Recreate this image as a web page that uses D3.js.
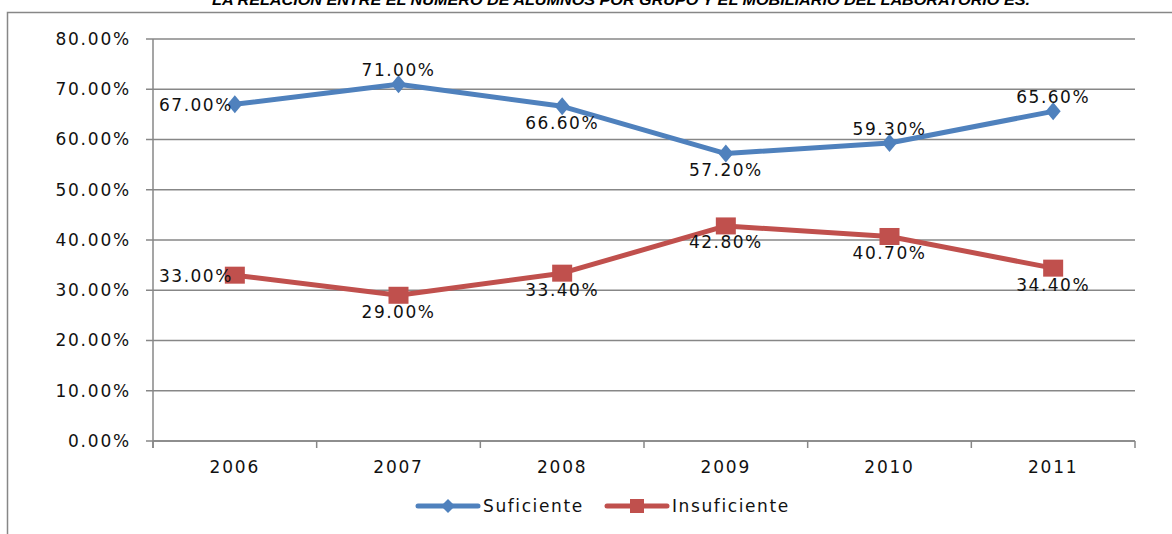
<!DOCTYPE html>
<html><head><meta charset="utf-8">
<script src="https://cdn.jsdelivr.net/npm/d3@7"></script>
<style>body{margin:0;background:#fff;}svg{display:block;}</style>
</head><body>
<svg id="c" width="1172" height="534"></svg>
<script>
const years = ["2006","2007","2008","2009","2010","2011"];
const suficiente = [67.0, 71.0, 66.6, 57.2, 59.3, 65.6];
const insuficiente = [33.0, 29.0, 33.4, 42.8, 40.7, 34.4];
const yTicks = [0,10,20,30,40,50,60,70,80];
const sufPos = ["left","above","below","below","above","above"];
const insPos = ["left","below","below","below","below","below"];
const title = "LA RELACIÓN ENTRE EL NÚMERO DE ALUMNOS POR GRUPO Y EL MOBILIARIO DEL LABORATORIO ES.";

const svg = d3.select("#c");
const blue = "#4F81BD", red = "#C0504D", grid = "#878787";
const font = "'DejaVu Sans', Verdana, sans-serif";

// outer frame
svg.append("rect").attr("x",7.5).attr("y",12.5).attr("width",1170).attr("height",540)
  .attr("fill","none").attr("stroke",grid).attr("stroke-width",1.5);

// title (clipped at top, as in the reference)
svg.append("text").attr("x",621).attr("y",5).attr("text-anchor","middle")
  .attr("font-family","'Liberation Sans Narrow','Arial Narrow','Liberation Sans',sans-serif")
  .attr("font-weight","bold").attr("font-style","italic").attr("font-size",15)
  .attr("textLength",818).attr("lengthAdjust","spacingAndGlyphs")
  .text(title);

const x = d3.scaleBand().domain(years).range([153,1135]);
const y = d3.scaleLinear().domain([0,80]).range([441,39]);

// gridlines
svg.append("g").selectAll("line").data(yTicks).join("line")
  .attr("x1",146).attr("x2",1135).attr("y1",d=>y(d)).attr("y2",d=>y(d))
  .attr("stroke",grid).attr("stroke-width",1.5);

// y axis
const ya = svg.append("g").attr("transform","translate(153,0)")
  .call(d3.axisLeft(y).tickValues(yTicks).tickSize(0).tickPadding(22).tickFormat(d=>d.toFixed(2)+"%"));
ya.select(".domain").attr("stroke",grid).attr("stroke-width",1.5).attr("d","M0,39V448");
ya.selectAll("text").attr("font-family",font).attr("font-size",17).attr("fill","#111")
  .attr("letter-spacing","1.8px");

// x axis
const xa = svg.append("g").attr("transform","translate(0,441)")
  .call(d3.axisBottom(x).tickSize(0).tickPadding(20));
xa.select(".domain").attr("stroke",grid).attr("stroke-width",1.5).attr("d","M153,0H1135");
xa.selectAll("text").attr("font-family",font).attr("font-size",17).attr("fill","#111").attr("letter-spacing","1.8px");
// category boundary ticks
const bounds = years.map(d=>x(d)).concat([x.range()[1]]);
svg.append("g").selectAll("line").data(bounds).join("line")
  .attr("x1",d=>d).attr("x2",d=>d).attr("y1",441).attr("y2",448)
  .attr("stroke",grid).attr("stroke-width",1.5);

const cx = d => x(d)+x.bandwidth()/2;
const line = d3.line().x((d,i)=>cx(years[i])).y(d=>y(d));

function drawSeries(vals, color, marker, pos){
  svg.append("path").datum(vals).attr("d",line).attr("fill","none")
    .attr("stroke",color).attr("stroke-width",5).attr("stroke-linejoin","round");
  const g = svg.append("g");
  vals.forEach((v,i)=>{
    const px = cx(years[i]), py = y(v);
    if(marker==="diamond"){
      g.append("path").attr("d",`M${px},${py-9}L${px+7.5},${py}L${px},${py+9}L${px-7.5},${py}Z`).attr("fill",color);
    } else {
      g.append("rect").attr("x",px-10).attr("y",py-8.5).attr("width",20).attr("height",17).attr("fill",color);
    }
    const t = g.append("text").attr("font-family",font).attr("font-size",17).attr("fill","#111")
      .attr("letter-spacing","1.5px").text(v.toFixed(2)+"%");
    if(pos[i]==="left"){ t.attr("x",px-2).attr("y",py+7).attr("text-anchor","end"); }
    else if(pos[i]==="above"){ t.attr("x",px).attr("y",py-8).attr("text-anchor","middle"); }
    else { t.attr("x",px).attr("y",py+22.5).attr("text-anchor","middle"); }
  });
}
drawSeries(suficiente, blue, "diamond", sufPos);
drawSeries(insuficiente, red, "square", insPos);

// legend
const lg = svg.append("g");
const items = [
  {name:"Suficiente", color:blue, marker:"diamond", x0:418},
  {name:"Insuficiente", color:red, marker:"square", x0:607}
];
items.forEach(it=>{
  lg.append("line").attr("x1",it.x0).attr("x2",it.x0+60).attr("y1",506).attr("y2",506)
    .attr("stroke",it.color).attr("stroke-width",5).attr("stroke-linecap","round");
  const mx = it.x0+30;
  if(it.marker==="diamond") lg.append("path").attr("d",`M${mx},499L${mx+7},506L${mx},513L${mx-7},506Z`).attr("fill",it.color);
  else lg.append("rect").attr("x",mx-7).attr("y",499).attr("width",14).attr("height",14).attr("fill",it.color);
  lg.append("text").attr("x",it.x0+65).attr("y",512).attr("font-family",font).attr("font-size",17)
    .attr("letter-spacing","1.6px").attr("fill","#111").text(it.name);
});
</script>
</body></html>
